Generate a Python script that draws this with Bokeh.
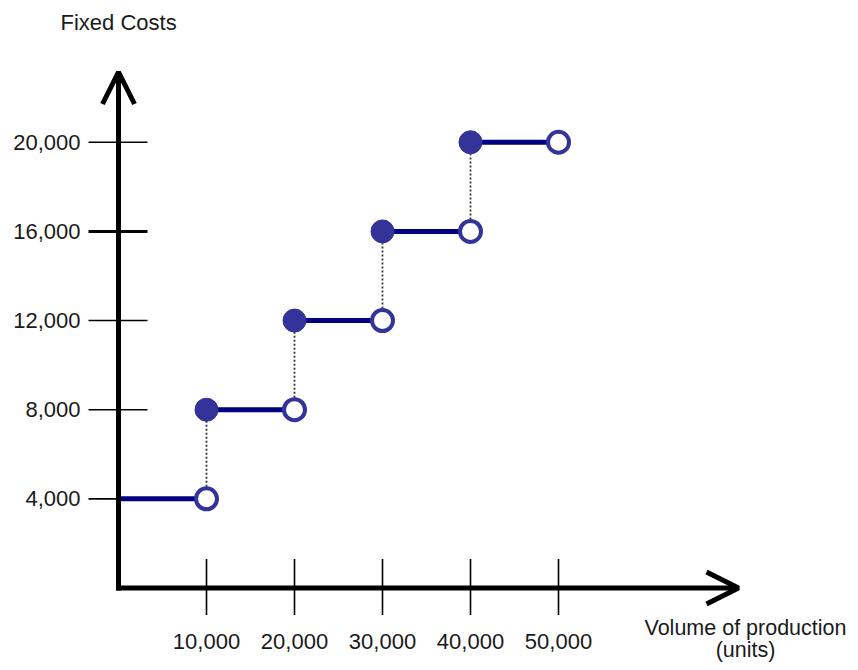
from bokeh.plotting import figure
from bokeh.models import Arrow, OpenHead, Label
from bokeh.embed import file_html
from bokeh.resources import INLINE
from bokeh.core.properties import value

# ---- data ----
x_ticks = [10000, 20000, 30000, 40000, 50000]
x_tick_labels = ["10,000", "20,000", "30,000", "40,000", "50,000"]
y_ticks = [4000, 8000, 12000, 16000, 20000]
y_tick_labels = ["4,000", "8,000", "12,000", "16,000", "20,000"]
step_start = [0, 10000, 20000, 30000, 40000]
step_end = [10000, 20000, 30000, 40000, 50000]
step_cost = [4000, 8000, 12000, 16000, 20000]

# ---- pixel scale ----
W, H = 850, 662
px_per_x = 88.0 / 10000
px_per_y = 89.15 / 4000
x0_px = 118.0     # x=0 location in frame px from left
y0_px = 74.5      # y=0 location in frame px from bottom

def dx(px):
    return px / px_per_x

def dy(px):
    return px / px_per_y

p = figure(width=W, height=H, output_backend="svg", toolbar_location=None,
           x_axis_location=None, y_axis_location=None,
           x_range=(-dx(x0_px), dx(W - x0_px)),
           y_range=(-dy(y0_px), dy(H - y0_px)),
           min_border=0, outline_line_color=None)
p.grid.visible = False
p.background_fill_color = "white"
p.border_fill_color = "white"

FONT = value("Liberation Sans")
TXT = "#1a1a1a"

# tick marks
ytick_w = [1.6 if v != 16000 else 3.0 for v in y_ticks]
p.segment(x0=[-dx(30)] * len(y_ticks), x1=[dx(29)] * len(y_ticks),
          y0=y_ticks, y1=y_ticks, line_color="black", line_width=ytick_w)
p.segment(x0=x_ticks, x1=x_ticks, y0=[dy(29)] * len(x_ticks),
          y1=[-dy(27)] * len(x_ticks), line_color="black", line_width=1.6)

# tick labels
p.text(x=[0] * len(y_ticks), y=y_ticks, text=y_tick_labels, x_offset=-38,
       text_align="right", text_baseline="middle", text_font=FONT,
       text_font_size="22px", text_color=TXT)
p.text(x=x_ticks, y=[0] * len(x_ticks), text=x_tick_labels, y_offset=53,
       text_align="center", text_baseline="middle", text_font=FONT,
       text_font_size="22px", text_color=TXT)

# dotted risers between steps
p.segment(x0=step_end[:-1], x1=step_end[:-1], y0=step_cost[:-1], y1=step_cost[1:],
          line_color="#333333", line_width=1.8, line_dash="2 2")

# step segments
p.segment(x0=step_start, x1=step_end, y0=step_cost, y1=step_cost,
          line_color="#000080", line_width=5)

# axes with arrows
p.add_layout(Arrow(end=OpenHead(size=32, line_width=5, line_color="black"),
                   x_start=-dx(2.5), y_start=0, x_end=dx(620), y_end=0,
                   line_width=5, line_color="black"))
p.add_layout(Arrow(end=OpenHead(size=32, line_width=5, line_color="black"),
                   x_start=0, y_start=-dy(2.5), x_end=0, y_end=dy(516),
                   line_width=5, line_color="black"))

# closed (filled) and open circles
p.scatter(x=step_start[1:], y=step_cost[1:], size=23, fill_color="#333399",
          line_color="#333399", line_width=1, level="overlay")
p.scatter(x=step_end, y=step_cost, size=21, fill_color="white",
          line_color="#333399", line_width=4, level="overlay")

# axis titles
p.add_layout(Label(x=60, y=H - 22, x_units="screen", y_units="screen",
                   text="Fixed Costs", text_font="Liberation Sans",
                   text_font_size="22px", text_color=TXT,
                   text_baseline="middle", text_align="left"))
p.add_layout(Label(x=745, y=35, x_units="screen", y_units="screen",
                   text="Volume of production", text_font="Liberation Sans",
                   text_font_size="21.5px", text_color=TXT,
                   text_baseline="middle", text_align="center"))
p.add_layout(Label(x=745, y=13, x_units="screen", y_units="screen",
                   text="(units)", text_font="Liberation Sans",
                   text_font_size="21.5px", text_color=TXT,
                   text_baseline="middle", text_align="center"))

open("out.html", "w").write(file_html(p, INLINE))
